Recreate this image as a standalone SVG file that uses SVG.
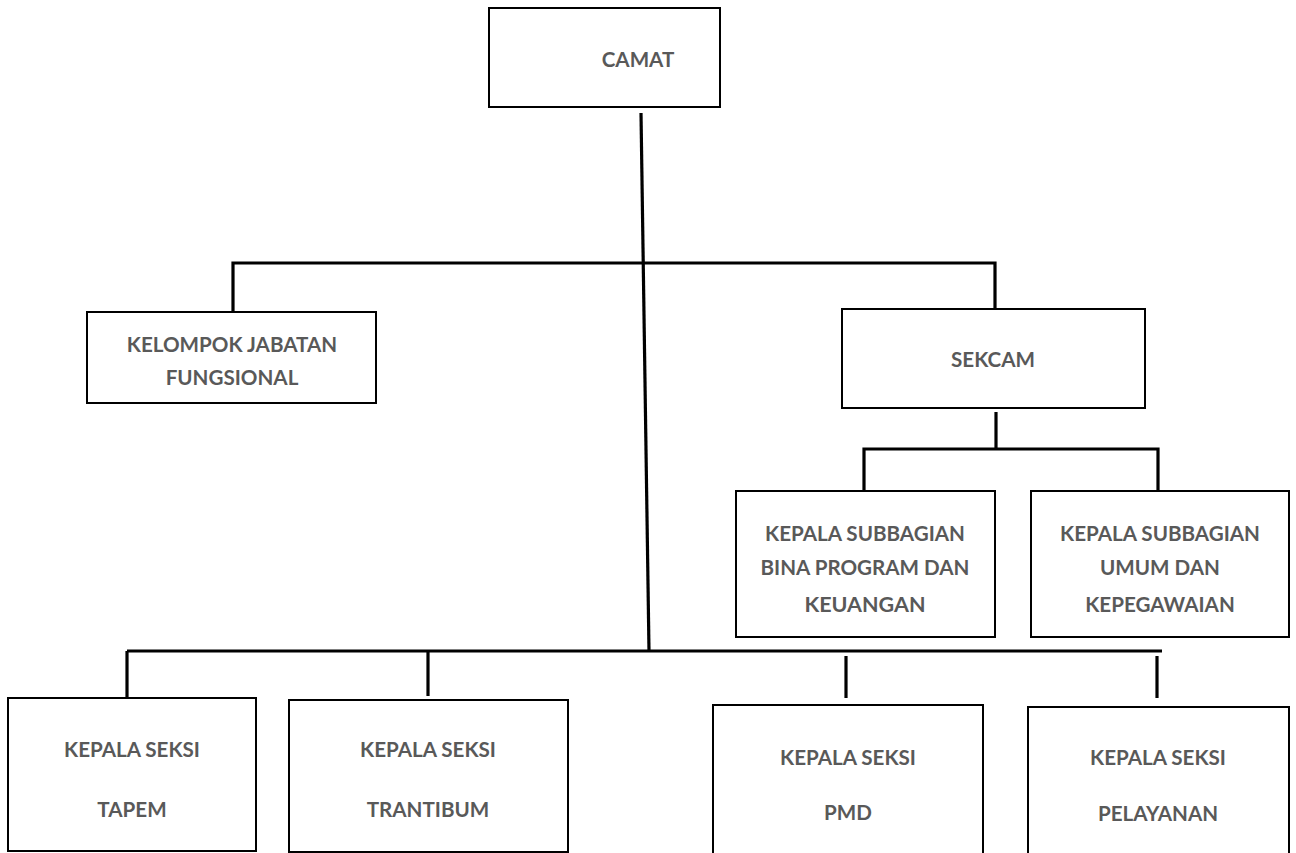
<svg xmlns="http://www.w3.org/2000/svg" width="1296" height="853" viewBox="0 0 1296 853">
<style>
.box{fill:#fff;stroke:#000;stroke-width:2}
.t{font-family:Lato,"Open Sans","Liberation Sans",sans-serif;font-weight:bold;font-size:20.6px;fill:#595959;text-anchor:middle}
.c{stroke:#000;stroke-width:3.2;fill:none}
</style>
<rect width="1296" height="853" fill="#fff"/>
<g id="connectors">
<line class="c" x1="641" y1="113" x2="649" y2="651"/>
<polyline class="c" points="233,313 233,263 995,263 995,310"/>
<line class="c" x1="996" y1="412" x2="996" y2="449"/>
<polyline class="c" points="864,493 864,449 1158,449 1158,497"/>
<line class="c" x1="127" y1="651" x2="1162" y2="651"/>
<line class="c" x1="127" y1="651" x2="127" y2="698"/>
<line class="c" x1="428" y1="651" x2="428" y2="696"/>
<line class="c" x1="846" y1="656" x2="846" y2="698"/>
<line class="c" x1="1157" y1="656" x2="1157" y2="698"/>
</g>
<g id="camat">
<rect class="box" x="489" y="8" width="231" height="99"/>
<text class="t" x="638" y="67">CAMAT</text>
</g>
<g id="kelompok">
<rect class="box" x="87" y="312" width="289" height="91"/>
<text class="t" x="232" y="352">KELOMPOK JABATAN</text>
<text class="t" x="232" y="385">FUNGSIONAL</text>
</g>
<g id="sekcam">
<rect class="box" x="842" y="309" width="303" height="99"/>
<text class="t" x="993" y="367">SEKCAM</text>
</g>
<g id="subbag-program">
<rect class="box" x="736" y="491" width="259" height="146"/>
<text class="t" x="865" y="541">KEPALA SUBBAGIAN</text>
<text class="t" x="865" y="575">BINA PROGRAM DAN</text>
<text class="t" x="865" y="612" style="font-size:21.5px">KEUANGAN</text>
</g>
<g id="subbag-umum">
<rect class="box" x="1031" y="491" width="258" height="146"/>
<text class="t" x="1160" y="541">KEPALA SUBBAGIAN</text>
<text class="t" x="1160" y="575">UMUM DAN</text>
<text class="t" x="1160" y="612">KEPEGAWAIAN</text>
</g>
<g id="seksi-tapem">
<rect class="box" x="8" y="698" width="248" height="153"/>
<text class="t" x="132" y="757">KEPALA SEKSI</text>
<text class="t" x="132" y="817">TAPEM</text>
</g>
<g id="seksi-trantibum">
<rect class="box" x="289" y="700" width="279" height="152"/>
<text class="t" x="428" y="757">KEPALA SEKSI</text>
<text class="t" x="428" y="817">TRANTIBUM</text>
</g>
<g id="seksi-pmd">
<rect class="box" x="713" y="705" width="270" height="150"/>
<text class="t" x="848" y="765">KEPALA SEKSI</text>
<text class="t" x="848" y="820">PMD</text>
</g>
<g id="seksi-pelayanan">
<rect class="box" x="1028" y="707" width="261" height="150"/>
<text class="t" x="1158" y="765">KEPALA SEKSI</text>
<text class="t" x="1158" y="821">PELAYANAN</text>
</g>
</svg>
